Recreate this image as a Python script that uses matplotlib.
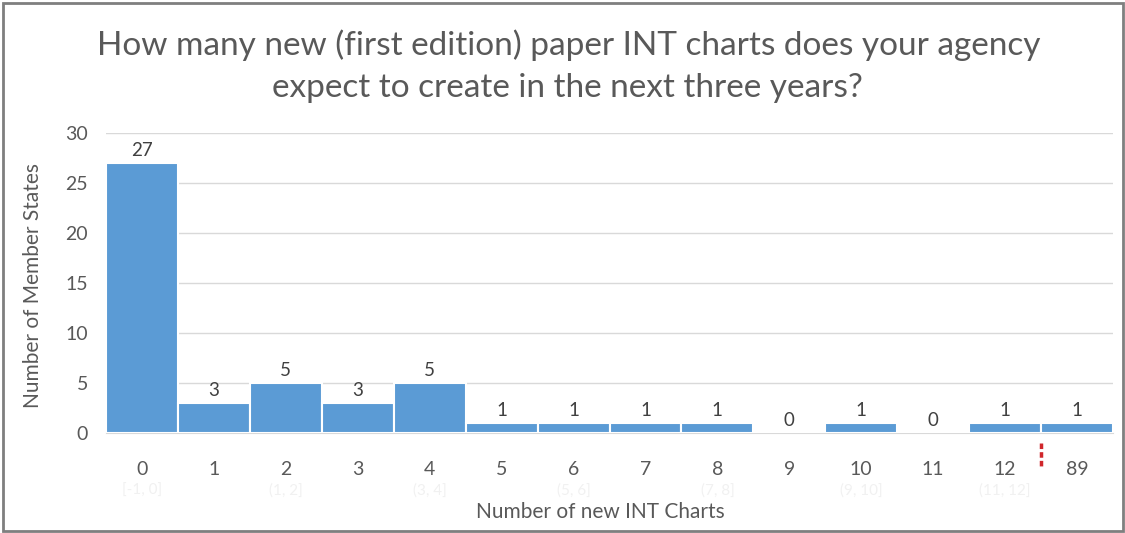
import matplotlib
matplotlib.use("Agg")
import matplotlib.pyplot as plt
from matplotlib.patches import Rectangle

# Survey responses: number of new INT charts expected vs. member-state count
categories = ["0", "1", "2", "3", "4", "5", "6", "7", "8", "9", "10", "11", "12", "89"]
counts = [27, 3, 5, 3, 5, 1, 1, 1, 1, 0, 1, 0, 1, 1]
bin_labels = ["[-1, 0]", "(1, 2]", "(3, 4]", "(5, 6]", "(7, 8]", "(9, 10]", "(11, 12]"]
y_ticks = [0, 5, 10, 15, 20, 25, 30]

plt.rcParams["font.family"] = ["Lato", "DejaVu Sans"]

W, H = 1125, 533
fig = plt.figure(figsize=(W / 100, H / 100), dpi=100)
ax = fig.add_axes([106 / W, (H - 433) / H, (1113 - 106) / W, 300 / H])

x = list(range(len(categories)))
ax.bar(x, counts, width=1.0, color="#5B9BD5", edgecolor="white",
       linewidth=1.5, zorder=3)
for xi, v in zip(x, counts):
    ax.text(xi, v + 0.35, str(v), ha="center", va="bottom",
            fontsize=13.5, color="#404040", zorder=4)

ax.set_xlim(-0.5, len(categories) - 0.5)
ax.set_ylim(0, 30)
ax.set_yticks(y_ticks)
ax.set_xticks(x)
ax.set_xticklabels(categories)
ax.tick_params(axis="both", length=0, labelsize=14, colors="#595959")
ax.tick_params(axis="x", pad=20)
ax.tick_params(axis="y", pad=13)
ax.yaxis.grid(True, color="#d9d9d9", linewidth=1, zorder=0)
for side in ["top", "right", "left"]:
    ax.spines[side].set_visible(False)
ax.spines["bottom"].set_color("#d9d9d9")

ax.set_xlabel("Number of new INT Charts", fontsize=15, color="#595959", va="center")
ax.xaxis.set_label_coords((600 - 106) / 1007, -(512 - 433) / 300)
ax.set_ylabel("Number of Member States", fontsize=15, color="#595959", va="center")
ax.yaxis.set_label_coords((33 - 106) / 1007, 0.49)

# faint bin-range captions under the even categories
for i, lab in zip(range(0, 13, 2), bin_labels):
    ax.text(i, -5.8, lab, ha="center", va="center", fontsize=11,
            color="#f1f1f1", zorder=1, clip_on=False)

# break marker between 12 and 89
ax.plot([12.5, 12.5], [-1.0, -3.4], color="#d0262b", linewidth=2.5,
        linestyle=(0, (1.6, 0.9)), clip_on=False, zorder=5)

fig.text(569 / W, 1 - 45 / H, "How many new (first edition) paper INT charts does your agency",
         ha="center", va="center", fontsize=24, color="#595959")
fig.text(567 / W, 1 - 88 / H, "expect to create in the next three years?",
         ha="center", va="center", fontsize=24, color="#595959")

fig.add_artist(Rectangle((3 / W, 2 / H), (W - 5) / W, (H - 5) / H,
                         transform=fig.transFigure, fill=False,
                         edgecolor="#7f7f7f", linewidth=2))

fig.savefig("out.png", dpi=100, facecolor="white")
